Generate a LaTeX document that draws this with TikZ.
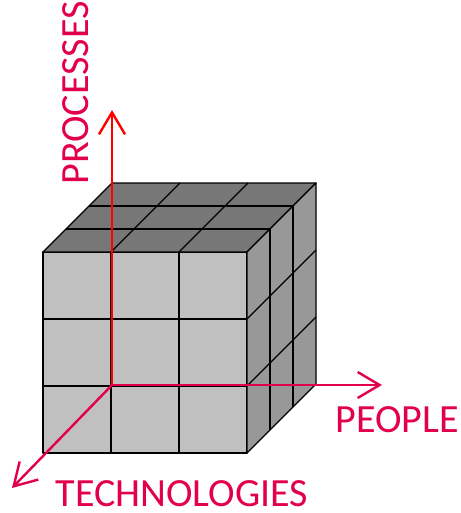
\documentclass[tikz,border=0pt]{standalone}
\usepackage{fontspec}
\newfontfamily\labelfont{Carlito}
\usetikzlibrary{arrows.meta,positioning,calc}
\definecolor{frontgray}{RGB}{192,192,192}
\definecolor{topgray}{RGB}{119,119,119}
\definecolor{sidegray}{RGB}{152,152,152}
\definecolor{axiscrimson}{RGB}{226,0,76}
\definecolor{axisred}{RGB}{255,0,0}
\tikzset{
  grid/.style={line width=1.3pt, black, line join=round},
  axis/.style={line width=2.4pt, -{Straight Barb[length=22pt,width=26pt,line width=2.4pt]}},
  axislabel/.style={axiscrimson, inner sep=0pt, font=\labelfont\fontsize{40}{42}\selectfont}
}
\begin{document}
\begin{tikzpicture}[x=1pt,y=-1pt]
    \useasboundingbox (0,0) rectangle (460,513);
    % front face
    \filldraw[grid, fill=frontgray] (43,252) rectangle (247,453);
    \foreach \i in {1,2} {
      \draw[grid] (43+68*\i,252) -- (43+68*\i,453);
      \draw[grid] (43,252+67*\i) -- (247,252+67*\i);
    }
    % top face
    \filldraw[grid, fill=topgray] (43,252) -- (247,252) -- (316,183) -- (112,183) -- cycle;
    \foreach \i in {1,2} {
      \draw[grid] (43+68*\i,252) -- ++(69,-69);
      \draw[grid] (43+23*\i,252-23*\i) -- ++(204,0);
    }
    % side face
    \filldraw[grid, fill=sidegray] (247,252) -- (316,183) -- (316,384) -- (247,453) -- cycle;
    \foreach \i in {1,2} {
      \draw[grid] (247+23*\i,252-23*\i) -- ++(0,201);
      \draw[grid] (247,252+67*\i) -- ++(69,-69);
    }
    % axes
    \coordinate (origin) at (112,385);
    \coordinate (procTip) at (112,110);
    \coordinate (peopleTip) at (382,385);
    \coordinate (techTip) at (12,488);
    \draw[axis, axisred] (origin) -- (procTip);
    \draw[axis, axiscrimson] (origin) -- (peopleTip);
    \draw[axis, axiscrimson] (origin) -- (techTip);
    % labels
    \node[axislabel, rotate=90] (procLabel) at (76,93) {PROCESSES};
    \node[axislabel] (peopleLabel) at (397,420) {PEOPLE};
    \node[axislabel] (techLabel) at (182,494) {TECHNOLOGIES};
  \end{tikzpicture}
\end{document}
